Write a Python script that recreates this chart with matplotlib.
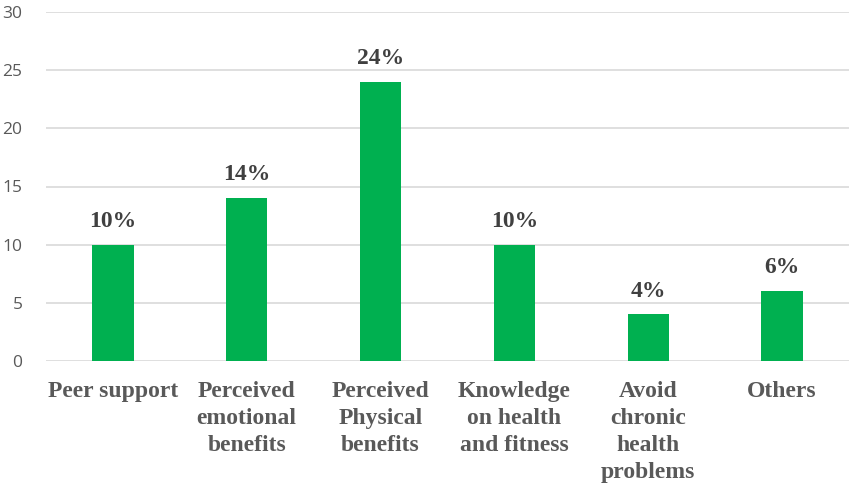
import matplotlib
matplotlib.use("Agg")
import matplotlib.pyplot as plt

categories = ["Peer support", "Perceived\nemotional\nbenefits", "Perceived\nPhysical\nbenefits",
              "Knowledge\non health\nand fitness", "Avoid\nchronic\nhealth\nproblems", "Others"]
values = [10, 14, 24, 10, 4, 6]
value_labels = ["10%", "14%", "24%", "10%", "4%", "6%"]
yticks = [0, 5, 10, 15, 20, 25, 30]

fig = plt.figure(figsize=(8.49, 4.87), dpi=100)
ax = fig.add_axes([46/849, 1-361/487, 803/849, (361-12)/487])

x = list(range(len(categories)))
ax.bar(x, values, width=0.31, color="#00B050", zorder=3)
ax.set_xlim(-0.5, len(categories) - 0.5)
ax.set_ylim(0, 30)
ax.set_yticks(yticks)
ax.grid(axis="y", color="#D9D9D9", linewidth=1.2, zorder=0)
for s in ax.spines.values():
    s.set_visible(False)
ax.tick_params(axis="both", length=0)
ax.tick_params(axis="y", labelsize=12.5, labelcolor="#595959", pad=17)
for lab in ax.get_yticklabels():
    lab.set_family("Open Sans")
ax.set_xticks(x)
ax.set_xticklabels(categories, family="Liberation Serif", fontweight="bold",
                   fontsize=17, color="#595959", linespacing=1.38)
ax.tick_params(axis="x", pad=14.5)

for xi, v, lab in zip(x, values, value_labels):
    ax.text(xi, v + 1.1, lab, ha="center", va="bottom", family="Liberation Serif",
            fontweight="bold", fontsize=17, color="#404040")

fig.savefig("out.png", dpi=100)
